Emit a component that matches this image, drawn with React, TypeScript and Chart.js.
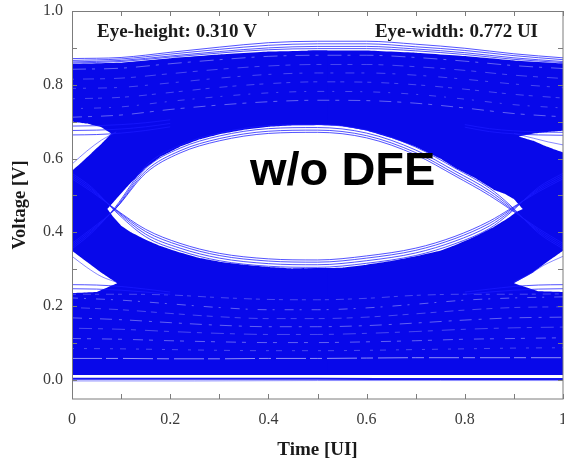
import React, { useEffect, useRef } from 'react';
import { Chart, registerables } from 'chart.js';

Chart.register(...registerables);

// ---------- axes ----------
const X_TICKS = [0, 0.1, 0.2, 0.3, 0.4, 0.5, 0.6, 0.7, 0.8, 0.9, 1];
const X_LABELS = ['0', '', '0.2', '', '0.4', '', '0.6', '', '0.8', '', '1'];
const Y_TICKS = [0, 0.1, 0.2, 0.3, 0.4, 0.5, 0.6, 0.7, 0.8, 0.9, 1.0];
const Y_LABELS = ['0.0', '', '0.2', '', '0.4', '', '0.6', '', '0.8', '', '1.0'];
const Y_MIN = -0.052;
const Y_MAX = 1.0;

// ---------- texts ----------
const X_TITLE = 'Time [UI]';
const Y_TITLE = 'Voltage [V]';
const NOTE_LEFT = 'Eye-height: 0.310 V';
const NOTE_RIGHT = 'Eye-width: 0.772 UI';
const BIG_LABEL = 'w/o DFE';

// ---------- dense trace regions (outlines, Time UI / Voltage V) ----------
const polyLeftX = [0.52, 0.5, 0.4, 0.3, 0.2, 0.1, 0, 0, 0.03, 0.06, 0.08, 0.06, 0.04, 0.02, 0, 0, 0.03, 0.06, 0.092, 0.05, 0, 0, 0.52, 0.52, 0.45, 0.4, 0.35, 0.3, 0.26, 0.22, 0.18, 0.15, 0.12, 0.1, 0.085, 0.072, 0.09, 0.11, 0.15, 0.18, 0.22, 0.26, 0.3, 0.35, 0.4, 0.45, 0.52];
const polyLeftY = [0.893, 0.893, 0.890, 0.882, 0.872, 0.860, 0.857, 0.700, 0.695, 0.685, 0.668, 0.640, 0.615, 0.590, 0.567, 0.350, 0.320, 0.290, 0.262, 0.238, 0.235, 0.013, 0.013, 0.303, 0.302, 0.306, 0.312, 0.320, 0.330, 0.345, 0.363, 0.380, 0.400, 0.418, 0.440, 0.463, 0.490, 0.520, 0.575, 0.605, 0.632, 0.652, 0.666, 0.678, 0.686, 0.690, 0.691];
const polyRightX = [0.48, 0.5, 0.6, 0.7, 0.8, 0.9, 1, 1, 0.97, 0.94, 0.91, 0.94, 0.96, 0.98, 1, 1, 0.97, 0.94, 0.9, 0.95, 1, 1, 0.48, 0.48, 0.55, 0.6, 0.65, 0.7, 0.75, 0.78, 0.82, 0.86, 0.89, 0.905, 0.918, 0.9, 0.88, 0.86, 0.82, 0.78, 0.75, 0.7, 0.65, 0.6, 0.55, 0.48];
const polyRightY = [0.893, 0.893, 0.893, 0.887, 0.878, 0.866, 0.858, 0.675, 0.672, 0.668, 0.660, 0.648, 0.636, 0.626, 0.617, 0.350, 0.322, 0.292, 0.262, 0.240, 0.238, 0.013, 0.013, 0.302, 0.304, 0.312, 0.322, 0.335, 0.350, 0.365, 0.388, 0.415, 0.440, 0.455, 0.463, 0.490, 0.505, 0.515, 0.548, 0.575, 0.600, 0.632, 0.656, 0.676, 0.688, 0.692];

// ---------- individual traces ----------
const envX = [0, 0.1, 0.2, 0.3, 0.4, 0.5, 0.6, 0.7, 0.8, 0.9, 1];
const topLineA = [0.871, 0.874, 0.888, 0.902, 0.914, 0.918, 0.918, 0.910, 0.899, 0.884, 0.873];
const topLineB = [0.866, 0.870, 0.883, 0.896, 0.907, 0.911, 0.911, 0.903, 0.893, 0.879, 0.868];
const topLineC = [0.862, 0.866, 0.878, 0.890, 0.900, 0.904, 0.904, 0.897, 0.887, 0.873, 0.863];
const topLineD = [0.859, 0.863, 0.875, 0.886, 0.895, 0.898, 0.898, 0.892, 0.882, 0.869, 0.860];

const eyeX = [0, 0.04, 0.088, 0.15, 0.22, 0.3, 0.4, 0.5, 0.6, 0.7, 0.78, 0.85, 0.892, 0.95, 1];
const eyeUp1 = [0.37, 0.41, 0.463, 0.56, 0.615, 0.648, 0.668, 0.671, 0.656, 0.61, 0.553, 0.50, 0.463, 0.41, 0.37];
const eyeUp2 = [0.365, 0.406, 0.463, 0.566, 0.621, 0.654, 0.674, 0.677, 0.662, 0.616, 0.559, 0.506, 0.466, 0.406, 0.365];
const eyeUp3 = [0.36, 0.402, 0.465, 0.573, 0.628, 0.661, 0.681, 0.684, 0.669, 0.623, 0.566, 0.513, 0.47, 0.402, 0.36];
const eyeUp4 = [0.355, 0.398, 0.468, 0.58, 0.636, 0.669, 0.689, 0.692, 0.677, 0.631, 0.574, 0.52, 0.474, 0.398, 0.355];
const eyeLo1 = [0.545, 0.51, 0.463, 0.408, 0.37, 0.343, 0.328, 0.325, 0.336, 0.357, 0.389, 0.43, 0.463, 0.51, 0.545];
const eyeLo2 = [0.55, 0.514, 0.462, 0.402, 0.364, 0.337, 0.322, 0.319, 0.33, 0.351, 0.383, 0.424, 0.46, 0.514, 0.55];
const eyeLo3 = [0.555, 0.518, 0.46, 0.395, 0.357, 0.33, 0.315, 0.312, 0.323, 0.344, 0.376, 0.417, 0.456, 0.518, 0.555];
const eyeLo4 = [0.56, 0.522, 0.457, 0.388, 0.35, 0.323, 0.308, 0.305, 0.316, 0.337, 0.369, 0.41, 0.452, 0.522, 0.56];

const wedgeLX = [0, 0.05, 0.1, 0.15, 0.2];
const wedgeRX = [0.8, 0.85, 0.9, 0.95, 1];
const highLeft1 = [0.664, 0.665, 0.669, 0.676, 0.686];
const highLeft2 = [0.676, 0.677, 0.680, 0.686, 0.695];
const highLeft3 = [0.688, 0.689, 0.692, 0.697, 0.705];
const highRight1 = [0.685, 0.673, 0.667, 0.664, 0.663];
const highRight2 = [0.692, 0.681, 0.675, 0.672, 0.671];
const lowLeft1 = [0.258, 0.257, 0.253, 0.246, 0.238];
const lowLeft2 = [0.247, 0.246, 0.243, 0.238, 0.232];
const lowRight1 = [0.238, 0.246, 0.253, 0.257, 0.258];
const lowRight2 = [0.232, 0.238, 0.243, 0.246, 0.247];

const fanUL_X = [0, 0.03, 0.06, 0.09];
const fanUL_Y = [0.585, 0.62, 0.65, 0.672];
const fanLL_X = [0, 0.03, 0.06, 0.09];
const fanLL_Y = [0.335, 0.305, 0.28, 0.265];
const fanUR_X = [0.9, 0.94, 0.97, 1];
const fanUR_Y = [0.668, 0.655, 0.645, 0.637];
const fanLR_X = [0.9, 0.93, 0.96, 1];
const fanLR_Y = [0.265, 0.285, 0.31, 0.335];

const baseX = [0, 0.25, 0.5, 0.75, 1];
const baseLine1 = [0.003, 0.003, 0.003, 0.002, 0.002];
const baseLine2 = [-0.003, -0.003, -0.002, -0.002, -0.002];

// light gaps between traces (speckle texture)
const hiGap1 = [0.842, 0.845, 0.857, 0.868, 0.877, 0.880, 0.880, 0.874, 0.864, 0.852, 0.844];
const hiGap2 = [0.815, 0.818, 0.830, 0.842, 0.851, 0.855, 0.855, 0.849, 0.839, 0.826, 0.817];
const hiGap3 = [0.790, 0.793, 0.805, 0.818, 0.828, 0.832, 0.832, 0.826, 0.815, 0.802, 0.792];
const hiGap4 = [0.762, 0.766, 0.779, 0.793, 0.803, 0.808, 0.807, 0.800, 0.788, 0.774, 0.764];
const hiGap5 = [0.735, 0.740, 0.755, 0.768, 0.778, 0.782, 0.781, 0.774, 0.761, 0.746, 0.737];
const hiGap6 = [0.712, 0.718, 0.733, 0.745, 0.754, 0.758, 0.757, 0.750, 0.737, 0.722, 0.713];
const loGap1 = [0.058, 0.058, 0.057, 0.057, 0.058, 0.058, 0.059, 0.060, 0.060, 0.060, 0.060];
const loGap2 = [0.085, 0.084, 0.082, 0.080, 0.079, 0.079, 0.080, 0.082, 0.084, 0.086, 0.087];
const loGap3 = [0.112, 0.110, 0.106, 0.103, 0.101, 0.101, 0.103, 0.106, 0.110, 0.112, 0.114];
const loGap4 = [0.140, 0.137, 0.131, 0.126, 0.123, 0.123, 0.126, 0.131, 0.137, 0.141, 0.143];
const loGap5 = [0.168, 0.163, 0.155, 0.148, 0.144, 0.144, 0.147, 0.154, 0.162, 0.168, 0.170];
const loGap6 = [0.196, 0.190, 0.180, 0.171, 0.166, 0.166, 0.170, 0.179, 0.189, 0.196, 0.198];
const loGap7 = [0.222, 0.216, 0.206, 0.196, 0.190, 0.190, 0.195, 0.205, 0.216, 0.222, 0.225];
const loGap8 = [0.232, 0.232, 0.230, 0.223, 0.218, 0.217, 0.221, 0.229, 0.232, 0.232, 0.233];

const DENSE = 'rgb(8,8,234)';
const TRACE = 'rgba(25,25,255,0.75)';
const TRACE_SOFT = 'rgba(40,40,255,0.55)';
const SERIF = '"Liberation Serif", "Times New Roman", serif';
const SANS = '"Liberation Sans", Arial, sans-serif';

function zip(xs: number[], ys: number[]) {
  return xs.map((x, i) => ({ x, y: ys[i] }));
}

function region(xs: number[], ys: number[]) {
  return {
    data: zip(xs, ys),
    fill: 'shape',
    backgroundColor: DENSE,
    borderColor: 'rgba(0,0,0,0)',
    borderWidth: 0,
    pointRadius: 0,
    tension: 0.0001,
    order: 10,
  };
}

function trace(xs: number[], ys: number[], color: string, width: number, order: number, dash: number[] = [], dashOffset = 0) {
  return {
    data: zip(xs, ys),
    fill: false,
    borderColor: color,
    backgroundColor: color,
    borderWidth: width,
    borderDash: dash,
    borderDashOffset: dashOffset,
    pointRadius: 0,
    cubicInterpolationMode: 'monotone',
    order,
  };
}

const decor = {
  id: 'decor',
  afterDraw(chart: any) {
    const { ctx, chartArea: a, scales } = chart;
    const x = scales.x;
    const y = scales.y;
    ctx.save();
    ctx.strokeStyle = '#7c7c7c';
    ctx.lineWidth = 1;
    ctx.strokeRect(a.left + 0.5, a.top + 0.5, a.right - a.left - 0.5, a.bottom - a.top - 0.5);
    ctx.beginPath();
    for (const v of X_TICKS) {
      const px = Math.round(x.getPixelForValue(v)) + 0.5;
      ctx.moveTo(px, a.bottom);
      ctx.lineTo(px, a.bottom - 5);
      ctx.moveTo(px, a.top);
      ctx.lineTo(px, a.top + 5);
    }
    for (const v of Y_TICKS) {
      const py = Math.round(y.getPixelForValue(v)) + 0.5;
      ctx.moveTo(a.left, py);
      ctx.lineTo(a.left + 5, py);
      ctx.moveTo(a.right, py);
      ctx.lineTo(a.right - 5, py);
    }
    ctx.stroke();

    ctx.fillStyle = '#1a1a1a';
    ctx.font = 'bold 19px ' + SERIF;
    ctx.textBaseline = 'alphabetic';
    ctx.textAlign = 'left';
    ctx.fillText(NOTE_LEFT, a.left + 25, a.top + 26);
    ctx.textAlign = 'right';
    ctx.fillText(NOTE_RIGHT, a.right - 25, a.top + 26);

    ctx.fillStyle = '#000';
    ctx.font = 'bold 47px ' + SANS;
    ctx.textAlign = 'left';
    ctx.fillText(BIG_LABEL, a.left + 178, a.top + 174);

    ctx.fillStyle = '#1a1a1a';
    ctx.font = 'bold 19px ' + SERIF;
    ctx.textAlign = 'center';
    ctx.textBaseline = 'middle';
    ctx.fillText(X_TITLE, (a.left + a.right) / 2, 450);
    ctx.font = 'bold 18.5px ' + SERIF;
    ctx.translate(20, (a.top + a.bottom) / 2);
    ctx.rotate(-Math.PI / 2);
    ctx.fillText(Y_TITLE, 0, 0);
    ctx.restore();
  },
};

export default function App() {
  const ref = useRef<HTMLCanvasElement | null>(null);
  useEffect(() => {
    if (!ref.current) return;
    const W1 = 'rgba(255,255,255,0.36)';
    const W2 = 'rgba(255,255,255,0.26)';
    const datasets: any[] = [
      region(polyLeftX, polyLeftY),
      region(polyRightX, polyRightY),
      trace(envX, hiGap1, W1, 1, 5, [14, 6, 3, 9], 0),
      trace(envX, hiGap2, W2, 1, 5, [5, 9, 11, 6], 3),
      trace(envX, hiGap3, W2, 1, 5, [9, 7, 3, 12], 5),
      trace(envX, hiGap4, W2, 1, 5, [4, 10, 8, 5], 1),
      trace(envX, hiGap5, W2, 1, 5, [7, 8, 2, 11], 6),
      trace(envX, hiGap6, W1, 1, 5, [12, 6, 4, 9], 2),
      trace(envX, loGap1, 'rgba(255,255,255,0.55)', 1, 5, [30, 4, 12, 5], 0),
      trace(envX, loGap2, W2, 1, 5, [6, 10, 3, 7], 4),
      trace(envX, loGap3, W1, 1, 5, [10, 6, 4, 11], 1),
      trace(envX, loGap4, W2, 1, 5, [5, 9, 13, 6], 7),
      trace(envX, loGap5, W1, 1, 5, [12, 7, 3, 8], 2),
      trace(envX, loGap6, W2, 1, 5, [6, 8, 9, 5], 5),
      trace(envX, loGap7, W1, 1, 5, [9, 6, 2, 10], 3),
      trace(envX, loGap8, W2, 1, 5, [4, 7, 8, 4], 0),
      trace(envX, topLineA, TRACE, 1, 1),
      trace(envX, topLineB, TRACE, 1, 1),
      trace(envX, topLineC, TRACE, 1, 1),
      trace(envX, topLineD, TRACE, 1, 1),
      trace(eyeX, eyeUp1, TRACE, 1, 1),
      trace(eyeX, eyeUp2, TRACE, 1, 1),
      trace(eyeX, eyeUp3, TRACE, 1, 1),
      trace(eyeX, eyeUp4, TRACE, 1, 1),
      trace(eyeX, eyeLo1, TRACE, 1, 1),
      trace(eyeX, eyeLo2, TRACE, 1, 1),
      trace(eyeX, eyeLo3, TRACE, 1, 1),
      trace(eyeX, eyeLo4, TRACE, 1, 1),
      trace(wedgeLX, highLeft1, TRACE, 1, 1),
      trace(wedgeLX, highLeft2, TRACE, 1, 1),
      trace(wedgeLX, highLeft3, TRACE, 1, 1),
      trace(wedgeRX, highRight1, TRACE, 1, 1),
      trace(wedgeRX, highRight2, TRACE, 1, 1),
      trace(wedgeLX, lowLeft1, TRACE, 1, 1),
      trace(wedgeLX, lowLeft2, TRACE, 1, 1),
      trace(wedgeRX, lowRight1, TRACE, 1, 1),
      trace(wedgeRX, lowRight2, TRACE, 1, 1),
      trace(fanUL_X, fanUL_Y, TRACE_SOFT, 1, 1),
      trace(fanLL_X, fanLL_Y, TRACE_SOFT, 1, 1),
      trace(fanUR_X, fanUR_Y, TRACE_SOFT, 1, 1),
      trace(fanLR_X, fanLR_Y, TRACE_SOFT, 1, 1),
      trace(baseX, baseLine1, 'rgba(10,10,240,0.95)', 2, 1),
      trace(baseX, baseLine2, TRACE_SOFT, 1, 1),
    ];
    const chart = new Chart(ref.current, {
      type: 'line',
      data: { datasets },
      options: {
        responsive: false,
        animation: false,
        devicePixelRatio: 1,
        events: [],
        layout: { padding: { top: 11, right: 1, left: 0, bottom: 0 } },
        plugins: { legend: { display: false }, tooltip: { enabled: false } },
        scales: {
          x: {
            type: 'linear',
            min: 0,
            max: 1,
            afterBuildTicks: (s: any) => { s.ticks = X_TICKS.map((v) => ({ value: v })); },
            afterFit: (s: any) => {
              s.height = 64;
              s.paddingLeft = 0;
              s.paddingRight = 0;
            },
            ticks: {
              autoSkip: false,
              maxRotation: 0,
              padding: 11,
              color: '#3a3a3a',
              font: { family: SERIF, size: 16 },
              callback: (_v: any, i: number) => X_LABELS[i],
            },
            grid: { display: false, drawTicks: false },
            border: { display: false },
          },
          y: {
            type: 'linear',
            min: Y_MIN,
            max: Y_MAX,
            afterBuildTicks: (s: any) => { s.ticks = Y_TICKS.map((v) => ({ value: v })); },
            afterFit: (s: any) => {
              s.width = 72;
              s.paddingTop = 0;
              s.paddingBottom = 0;
            },
            ticks: {
              autoSkip: false,
              padding: 9,
              color: '#3a3a3a',
              font: { family: SERIF, size: 16 },
              callback: (_v: any, i: number) => Y_LABELS[i],
            },
            grid: { display: false, drawTicks: false },
            border: { display: false },
          },
        },
      },
      plugins: [decor],
    } as any);
    return () => chart.destroy();
  }, []);
  return (
    <div style={{ position: 'absolute', left: 0, top: 0, width: 564, height: 463, background: '#fff' }}>
      <canvas ref={ref} width={564} height={463} style={{ display: 'block' }} />
    </div>
  );
}
